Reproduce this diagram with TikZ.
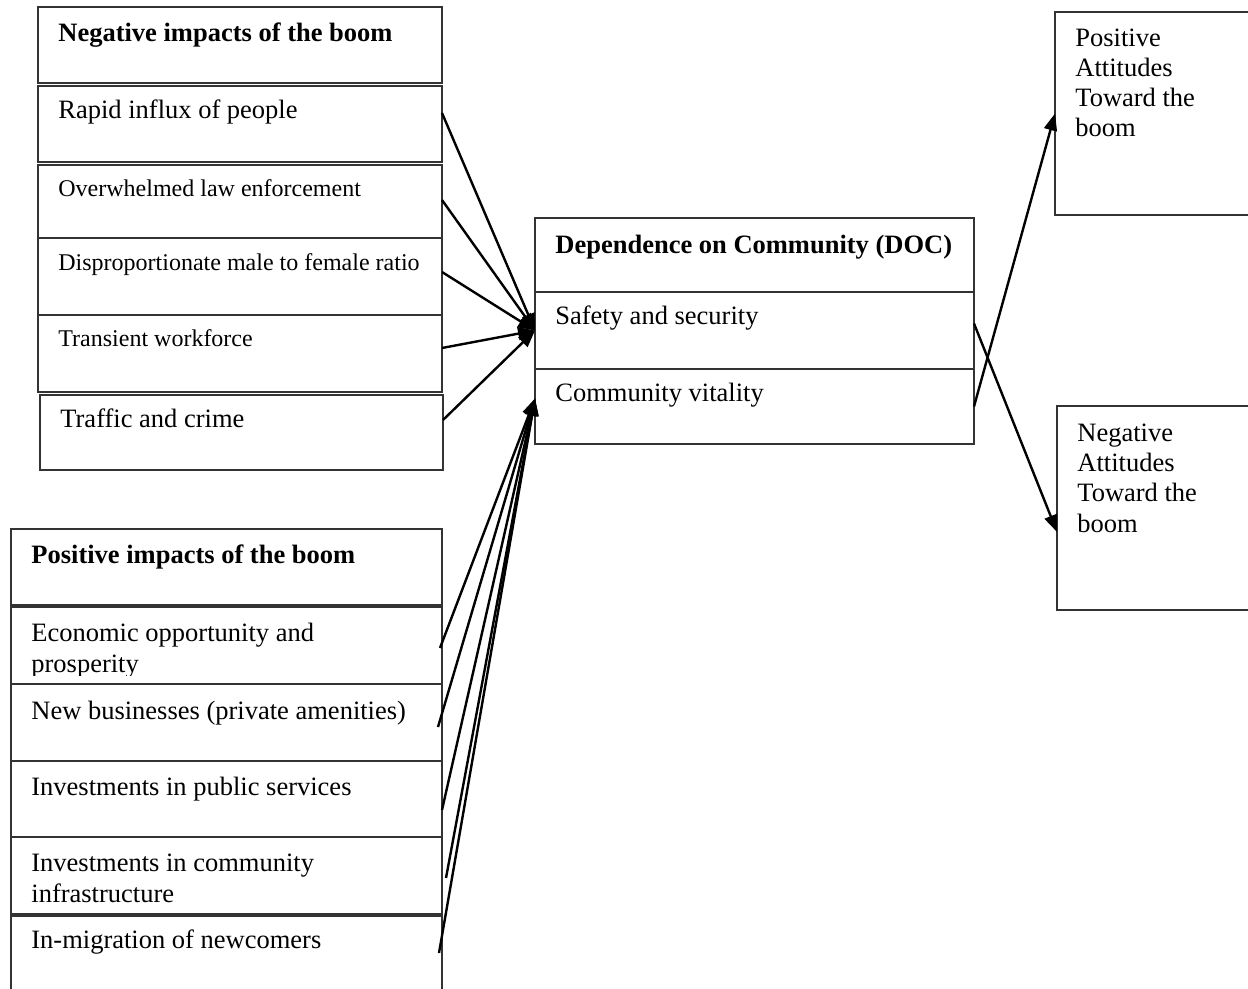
\documentclass[tikz,border=0pt]{standalone}
\usepackage{fontspec}
\setmainfont{Liberation Serif}
\usetikzlibrary{arrows.meta,calc}
\begin{document}
\begin{tikzpicture}[x=0.5pt,y=-0.5pt,
  bx/.style 2 args={draw=black!80, line width=0.65pt, inner sep=0pt, outer sep=0pt, anchor=north west, minimum width=#1*0.5pt, minimum height=#2*0.5pt},
  lbl/.style={inner sep=0pt, anchor=base west, align=left, font=\fontsize{13.25}{15.1}\selectfont},
  sml/.style={lbl, font=\fontsize{12}{14}\selectfont},
  hdr/.style={lbl, font=\fontsize{13.25}{15.1}\selectfont\bfseries},
  arr/.style={line width=1.2pt, -{Triangle[length=8.5pt,width=6.5pt]}},
]
\clip (0,0) rectangle (1248,989);
% Negative impacts
\node[bx={404}{76}] (nh) at (38,7) {};
\node[hdr] (nht) at (58,42) {Negative impacts of the boom};
\node[bx={404}{76}] (n1) at (38,86) {};
\node[lbl] (n1t) at (58,119) {Rapid influx of people};
\node[bx={404}{73}] (n2) at (38,165) {};
\node[sml] (n2t) at (58,197) {Overwhelmed law enforcement};
\node[bx={404}{77}] (n3) at (38,238) {};
\node[sml] (n3t) at (58,271) {Disproportionate male to female ratio};
\node[bx={404}{77}] (n4) at (38,315) {};
\node[sml] (n4t) at (58,347) {Transient workforce};
\node[bx={403}{75}] (n5) at (40,395) {};
\node[lbl] (n5t) at (60,428) {Traffic and crime};
% Positive impacts
\node[bx={431}{76}] (ph) at (11,529) {};
\node[hdr] (pht) at (31,563) {Positive impacts of the boom};
\node[bx={431}{77}] (p1) at (11,607) {};
\begin{scope}
\clip (11,607) rectangle (442,675);
\node[lbl] (p1t) at (31,672) {Economic opportunity and\\prosperity};
\end{scope}
\node[bx={431}{77}] (p2) at (11,684) {};
\node[lbl] (p2t) at (31,719) {New businesses (private amenities)};
\node[bx={431}{76}] (p3) at (11,761) {};
\node[lbl] (p3t) at (31,795) {Investments in public services};
\node[bx={431}{77}] (p4) at (11,837) {};
\node[lbl] (p4t) at (31,902) {Investments in community\\infrastructure};
\node[bx={431}{90}] (p5) at (11,916) {};
\node[lbl] (p5t) at (31,948) {In-migration of newcomers};
% DOC
\node[bx={439}{74}] (dh) at (535,218) {};
\node[hdr] (dht) at (555,254) {Dependence on Community (DOC)};
\node[bx={439}{77}] (ds) at (535,292) {};
\node[lbl] (dst) at (555,325) {Safety and security};
\node[bx={439}{75}] (dc) at (535,369) {};
\node[lbl] (dct) at (555,402) {Community vitality};
% Attitudes
\node[bx={210}{203}] (pa) at (1055,12) {};
\node[lbl] (pat) at (1075,137) {Positive\\Attitudes\\Toward the\\boom};
\node[bx={210}{204}] (na) at (1057,406) {};
\node[lbl] (nat) at (1077,532) {Negative\\Attitudes\\Toward the\\boom};
% arrows: negative impacts
\draw[arr] ([yshift=5.5pt]n1.east) -- (ds.west);
\draw[arr] ([yshift=0.75pt]n2.east) -- (ds.west);
\draw[arr] ([yshift=2.25pt]n3.east) -- (ds.west);
\draw[arr] ([yshift=2.75pt]n4.east) -- (ds.west);
\draw[arr] ([yshift=6.25pt]n5.east) -- (ds.west);
% arrows: positive impacts
\coordinate (ct) at ([yshift=4pt]dc.west);
\draw[arr] ([xshift=-1pt,yshift=-1.25pt]p1.east) -- (ct);
\draw[arr] ([xshift=-2pt,yshift=-2.25pt]p2.east) -- (ct);
\draw[arr] ([yshift=-5.5pt]p3.east) -- (ct);
\draw[arr] ([xshift=2pt,yshift=-1.25pt]p4.east) -- (ct);
\draw[arr] ([xshift=-1.5pt,yshift=4pt]p5.east) -- (ct);
% arrows: to attitudes
\draw[arr] ([yshift=3.5pt]ds.east) -- ([yshift=-12pt]na.west);
\draw[arr] (dc.east) -- (pa.west);
\end{tikzpicture}
\end{document}
